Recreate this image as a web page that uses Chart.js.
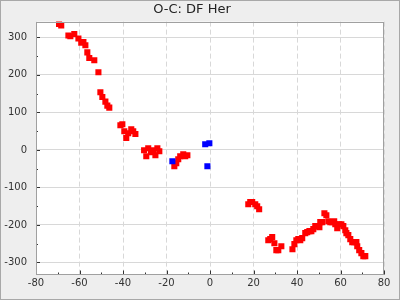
<!DOCTYPE html>
<html>
<head>
<meta charset="utf-8">
<script src="https://cdn.jsdelivr.net/npm/chart.js@4/dist/chart.umd.min.js"></script>
<style>
html,body{margin:0;padding:0;background:#eeeeee;}
canvas{display:block;}
</style>
</head>
<body>
<canvas id="c" width="400" height="300"></canvas>
<script>
const chartTitle = 'O-C: DF Her';
const xTicks = [-80, -60, -40, -20, 0, 20, 40, 60, 80];
const yTicks = [-300, -200, -100, 0, 100, 200, 300];

const redX = [-69.4,-68.4,-65.1,-64.2,-62.4,-60.5,-59.2,-58.2,-57.3,-56.4,-55.5,-53.2,-51.3,
  -50.4,-49.5,-48.1,-47.2,-46.3,-41.2,-40.3,-39.4,-38.5,-37.6,-36.2,-35.3,-34.3,
  -30.3,-29.3,-28.4,-27.1,-26.1,-25.1,-24.2,-23.3,-16.4,-15.5,-14.6,-13.7,-12.3,-11.4,-10.4,
  17.6,18.5,19.4,20.8,21.7,22.6,26.8,27.7,28.6,29.6,30.5,31.4,32.8,
  37.9,38.8,39.7,40.6,41.5,42.4,43.8,44.7,45.7,46.6,47.5,48.4,49.3,50.3,50.7,51.6,
  52.6,53.5,54.4,55.3,56.2,57.1,57.6,58.5,59.4,60.4,61.3,62.2,62.7,63.6,64.5,65.4,66.3,67.3,67.7,68.6,69.6,70.5,71.4];
const redY = [335.6,332,305,302.8,309,297,285.8,287.6,278.8,260,245,238.9,206.8,
  153.6,141,128.7,118,112.7,65.8,68.4,49.8,32,44.5,55.1,49.8,42.6,
  -1,-17,4.4,-6,-1,-14,4.4,-3.5,-43.5,-35.5,-24.8,-16.8,-11.5,-16.8,-14,
  -145,-139,-139,-145,-150,-158,-240.5,-237.8,-232.5,-248.5,-267,-267,-256.5,
  -264.5,-251,-240.5,-237.8,-240.5,-235,-221.8,-219,-216.5,-216.5,-211,-203,-203,-206,-192.5,-192.5,
  -168.6,-174,-190,-192.5,-192.5,-190,-198,-208.5,-198,-198,-203,-214,-221.8,-227,-237.8,-245.8,-245.8,-245.8,-256.5,-267,-275,-283,-283];
const blueX = [-17.3, -2.2, -0.3, -1.2];
const blueY = [-30, 15.2, 17.8, -43.5];

const toPts = (xs, ys) => xs.map((x, i) => ({x: x, y: ys[i]}));

const frame = {
  id: 'frame',
  beforeDraw(chart) {
    const {ctx, width, height, chartArea: a} = chart;
    ctx.save();
    ctx.fillStyle = '#eeeeee';
    ctx.fillRect(0, 0, width, height);
    ctx.strokeStyle = '#a8a8a8';
    ctx.lineWidth = 1;
    ctx.strokeRect(0.5, 0.5, width - 1, height - 1);
    ctx.fillStyle = '#ffffff';
    ctx.fillRect(a.left, a.top, a.right - a.left, a.bottom - a.top);
    ctx.restore();
  },
  afterDraw(chart) {
    const {ctx, chartArea: a} = chart;
    const xs = chart.scales.x, ys = chart.scales.y;
    ctx.save();
    ctx.strokeStyle = '#333333';
    ctx.lineWidth = 1;
    ctx.beginPath();
    const xv = xs.ticks.map(t => t.value);
    xv.forEach((v, i) => {
      const p = Math.round(xs.getPixelForValue(v)) + 0.5;
      ctx.moveTo(p, a.bottom); ctx.lineTo(p, a.bottom - 4);
      if (i < xv.length - 1) {
        const m = Math.round(xs.getPixelForValue((v + xv[i + 1]) / 2)) + 0.5;
        ctx.moveTo(m, a.bottom); ctx.lineTo(m, a.bottom - 2);
      }
    });
    const yv = ys.ticks.map(t => t.value);
    yv.forEach((v, i) => {
      const p = Math.round(ys.getPixelForValue(v)) + 0.5;
      ctx.moveTo(a.left, p); ctx.lineTo(a.left + 4, p);
      if (i < yv.length - 1) {
        const m = Math.round(ys.getPixelForValue((v + yv[i + 1]) / 2)) + 0.5;
        ctx.moveTo(a.left, m); ctx.lineTo(a.left + 2, m);
      }
    });
    ctx.stroke();
    ctx.strokeStyle = '#a0a0a0';
    ctx.strokeRect(Math.round(a.left) + 0.5, Math.round(a.top) + 0.5,
      Math.round(a.right - a.left) - 1, Math.round(a.bottom - a.top) - 1);
    ctx.restore();
  }
};

new Chart(document.getElementById('c'), {
  type: 'scatter',
  data: {
    datasets: [
      {label: 'blue', data: toPts(blueX, blueY), backgroundColor: '#0000ff', borderWidth: 0,
       pointStyle: 'rect', pointRadius: 4.3, pointHoverRadius: 4.3},
      {label: 'red', data: toPts(redX, redY), backgroundColor: '#ff0000', borderWidth: 0,
       pointStyle: 'rect', pointRadius: 4.3, pointHoverRadius: 4.3}
    ]
  },
  options: {
    responsive: false,
    devicePixelRatio: 1,
    animation: false,
    events: [],
    layout: {padding: {left: 0, right: 16, top: 0, bottom: 0}},
    plugins: {
      legend: {display: false},
      tooltip: {enabled: false},
      title: {
        display: true, text: chartTitle, color: '#222222',
        font: {family: 'DejaVu Sans', size: 13, weight: 'normal'},
        padding: {top: 2, bottom: 4}
      }
    },
    scales: {
      x: {
        type: 'linear', min: -80, max: 80,
        afterBuildTicks: s => { s.ticks = xTicks.map(v => ({value: v})); },
        afterFit: s => { s.height = 25.5; },
        grid: {color: '#d8d8d8', lineWidth: 1, drawTicks: false},
        border: {display: false, dash: [5, 3]},
        ticks: {color: '#333333', padding: 3, maxRotation: 0,
          font: {family: 'DejaVu Sans', size: 10}}
      },
      y: {
        type: 'linear', min: -332, max: 342,
        afterBuildTicks: s => { s.ticks = yTicks.map(v => ({value: v})); },
        afterFit: s => { s.width = 36; },
        grid: {color: '#d8d8d8', lineWidth: 1, drawTicks: false},
        border: {display: false},
        ticks: {color: '#333333', padding: 9,
          font: {family: 'DejaVu Sans', size: 10}}
      }
    }
  },
  plugins: [frame]
});
</script>
</body>
</html>
